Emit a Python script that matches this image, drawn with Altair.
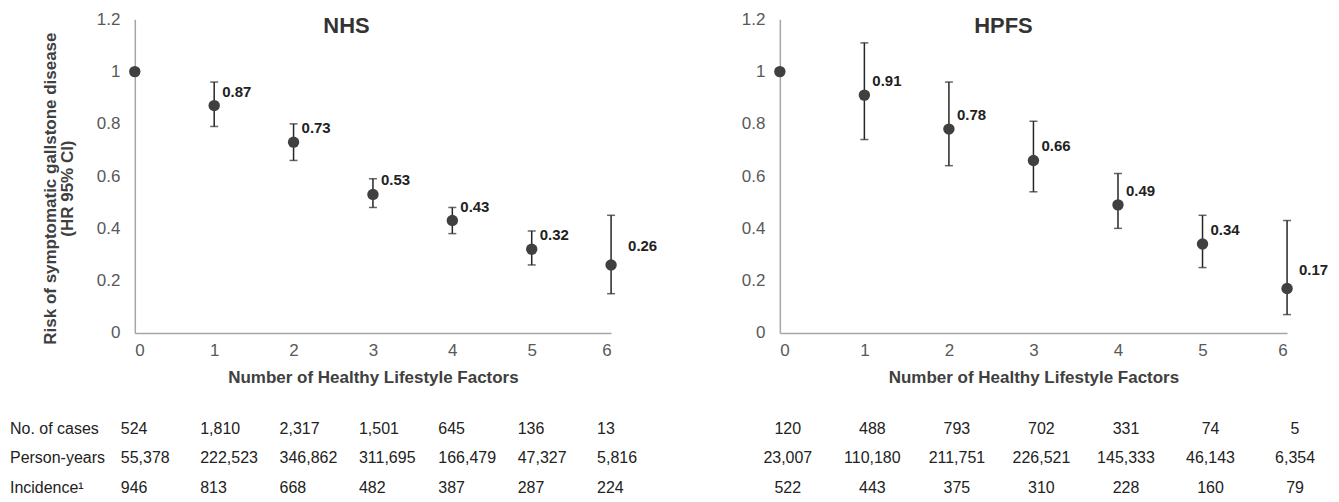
import altair as alt
import pandas as pd

FONT = "Liberation Sans"

factors = [0, 1, 2, 3, 4, 5, 6]

nhs_hr = [1.0, 0.87, 0.73, 0.53, 0.43, 0.32, 0.26]
nhs_lo = [None, 0.79, 0.66, 0.48, 0.38, 0.26, 0.15]
nhs_hi = [None, 0.96, 0.80, 0.59, 0.48, 0.39, 0.45]

hpfs_hr = [1.0, 0.91, 0.78, 0.66, 0.49, 0.34, 0.17]
hpfs_lo = [None, 0.74, 0.64, 0.54, 0.40, 0.25, 0.07]
hpfs_hi = [None, 1.11, 0.96, 0.81, 0.61, 0.45, 0.43]

row_labels = ["No. of cases", "Person-years", "Incidence¹"]

nhs_cases = ["524", "1,810", "2,317", "1,501", "645", "136", "13"]
nhs_py = ["55,378", "222,523", "346,862", "311,695", "166,479", "47,327", "5,816"]
nhs_inc = ["946", "813", "668", "482", "387", "287", "224"]

hpfs_cases = ["120", "488", "793", "702", "331", "74", "5"]
hpfs_py = ["23,007", "110,180", "211,751", "226,521", "145,333", "46,143", "6,354"]
hpfs_inc = ["522", "443", "375", "310", "228", "160", "79"]

y_ticks = [0, 0.2, 0.4, 0.6, 0.8, 1.0, 1.2]
x_title = "Number of Healthy Lifestyle Factors"
y_title = ["Risk of symptomatic gallstone disease", "(HR 95% CI)"]


def panel(title, hr, lo, hi, cases, py, inc, width, title_x, show_ytitle,
          show_rowlabels, table_align, table_dx, last_dx, last_dy):
    df = pd.DataFrame({"factor": factors, "hr": hr, "lo": lo, "hi": hi})
    df["label"] = [f"{v:.2f}" for v in hr]

    x_enc = alt.X(
        "factor:Q",
        scale=alt.Scale(domain=[0, 6], nice=False, zero=False),
        axis=alt.Axis(
            values=factors, title=x_title, grid=False, ticks=False, tickSize=0,
            domainColor="#a6a6a6", domainWidth=1.5,
            labelFont=FONT, labelFontSize=17, labelColor="#595959", labelPadding=10,
            titleFont=FONT, titleFontSize=17, titleFontWeight="bold",
            titleColor="#404040", titlePadding=11,
        ),
    )
    y_axis = alt.Axis(
        values=y_ticks, format="~g", grid=False, ticks=False, tickSize=0,
        domainColor="#a6a6a6", domainWidth=1.5,
        labelFont=FONT, labelFontSize=17, labelColor="#595959", labelPadding=15,
        title=y_title if show_ytitle else None,
        titleFont=FONT, titleFontSize=17, titleFontWeight="bold",
        titleColor="#404040", titlePadding=20, titleY=169, titleLineHeight=17,
    )
    y_scale = alt.Scale(domain=[0, 1.2], nice=False, zero=True)

    base = alt.Chart(df)
    ci = base.transform_filter("isValid(datum.lo)")

    rules = ci.mark_rule(color="#262626", strokeWidth=1.5).encode(
        x=x_enc, y=alt.Y("lo:Q", scale=y_scale, axis=y_axis), y2="hi:Q")
    cap_lo = ci.mark_tick(color="#262626", orient="horizontal", size=8, thickness=1.5).encode(
        x=x_enc, y=alt.Y("lo:Q", scale=y_scale, axis=y_axis))
    cap_hi = ci.mark_tick(color="#262626", orient="horizontal", size=8, thickness=1.5).encode(
        x=x_enc, y=alt.Y("hi:Q", scale=y_scale, axis=y_axis))
    points = base.mark_circle(size=130, color="#404040", opacity=1).encode(
        x=x_enc, y=alt.Y("hr:Q", scale=y_scale, axis=y_axis))
    labels = ci.transform_filter("datum.factor < 6").mark_text(
        align="left", baseline="middle", dx=8, dy=-14, font=FONT, fontSize=15,
        fontWeight="bold", color="#222222").encode(
        x=x_enc, y=alt.Y("hr:Q", scale=y_scale, axis=y_axis), text="label:N")
    labels_last = ci.transform_filter("datum.factor == 6").mark_text(
        align="left", baseline="middle", dx=last_dx, dy=last_dy, font=FONT, fontSize=15,
        fontWeight="bold", color="#222222").encode(
        x=x_enc, y=alt.Y("hr:Q", scale=y_scale, axis=y_axis), text="label:N")
    ttl = alt.Chart(pd.DataFrame({"t": [title]})).mark_text(
        font=FONT, fontSize=22, fontWeight="bold", color="#333333",
        align="center", baseline="middle").encode(
        text="t:N", x=alt.value(title_x), y=alt.value(7))

    plot = alt.layer(rules, cap_lo, cap_hi, points, labels, labels_last, ttl)

    rows = []
    for name, vals in zip(row_labels, [cases, py, inc]):
        for f, v in zip(factors, vals):
            rows.append({"row": name, "factor": f, "txt": v})
    tdf = pd.DataFrame(rows)
    row_scale = alt.Scale(domain=row_labels, range=[410, 469], padding=0)
    table = alt.Chart(tdf).mark_text(
        align=table_align, baseline="middle", dx=table_dx, font=FONT,
        fontSize=16, color="#222222").encode(
        x=x_enc, y=alt.Y("row:N", scale=row_scale, axis=None), text="txt:N")
    tlayers = [table]
    if show_rowlabels:
        rl = alt.Chart(pd.DataFrame({"row": row_labels})).mark_text(
            align="left", baseline="middle", font=FONT, fontSize=16,
            color="#222222").encode(
            x=alt.value(-125), y=alt.Y("row:N", scale=row_scale, axis=None),
            text="row:N")
        tlayers.append(rl)
    tab = alt.layer(*tlayers)

    return alt.layer(plot, tab).resolve_scale(y="independent").properties(
        width=width, height=314)


left = panel("NHS", nhs_hr, nhs_lo, nhs_hi, nhs_cases, nhs_py, nhs_inc,
             477, 212, True, True, "left", -14, 17, -19)
right = panel("HPFS", hpfs_hr, hpfs_lo, hpfs_hi, hpfs_cases, hpfs_py, hpfs_inc,
              508, 224, False, False, "center", 8, 12, -18)

chart = alt.hconcat(left, right, spacing=83).properties(
    padding={"left": 2, "top": 2, "right": 2, "bottom": 2},
    background="white",
).configure_view(stroke=None)

chart.save("out.html", embed_options={"renderer": "svg", "actions": False})
